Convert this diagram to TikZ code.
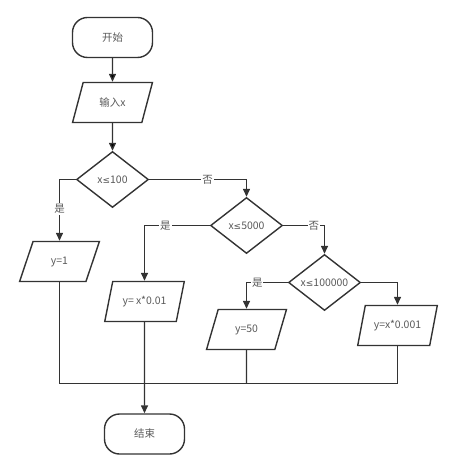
\documentclass[tikz,border=0pt]{standalone}
\usepackage{fontspec}
\newfontfamily\cjk{Noto Sans CJK SC}
\newfontfamily\symf{DejaVu Sans}
\usetikzlibrary{arrows.meta,shapes.geometric,positioning}

\definecolor{lineg}{HTML}{333333}
\definecolor{textg}{HTML}{595959}

\newcommand{\lessq}{{\symf\fontsize{9}{12}\selectfont ≤}}

\begin{document}
\begin{tikzpicture}[x=1bp, y=-1bp,
    every node/.style={font=\cjk\fontsize{10.5}{12}\selectfont, text=textg},
    term/.style={draw=lineg, line width=1.4bp, rounded corners=15bp,
        minimum width=80bp, minimum height=40bp},
    io/.style={draw=lineg, line width=1.4bp, trapezium,
        trapezium left angle=70, trapezium right angle=110,
        trapezium stretches=true, minimum width=80bp, minimum height=40bp},
    cond/.style={draw=lineg, line width=1.4bp, diamond, inner sep=0pt,
        minimum width=72bp, minimum height=56bp},
    lbl/.style={fill=white, inner sep=1pt},
    flow/.style={draw=lineg, line width=1.4bp, -{Triangle[length=8bp,width=7bp]}},
    link/.style={draw=lineg, line width=1.4bp}]
                \useasboundingbox (0,0) rectangle (464,464);

                \node (s) [term] at (112.5,37.5) {开始};
                \node (inp) [io] at (112.5,102.5) {输入x};
                \node (d1) [cond] at (112.5,179.5) {x\lessq100};
                \node (d2) [cond] at (246.5,225.5) {x\lessq5000};
                \node (d3) [cond] at (324.5,282.5) {x\lessq100000};
                \node (y1) [io] at (59.5,261.5) {y=1};
                \node (y2) [io] at (144.5,301.5) {y= x*0.01};
                \node (y3) [io] at (246.5,329.5) {y=50};
                \node (y4) [io] at (397.5,325.5) {y=x*0.001};
                \node (e) [term] at (144.5,434) {结束};
                \coordinate (m) at (144.5,383.5);

                \path [flow]
                    (s) edge (inp)
                    (inp) edge (d1);

                \draw [flow] (d1.west) -| node [lbl, pos=0.74] {是} (y1);
                \draw [flow] (d1.east) -| node [lbl, pos=0.3] {否} (d2);
                \draw [flow] (d2.west) -| node [lbl, pos=0.34] {是} (y2);
                \draw [flow] (d2.east) -| node [lbl, pos=0.37] {否} (d3);
                \draw [flow] (d3.west) -| node [lbl, pos=0.37] {是} (y3);
                \draw [flow] (d3.east) -| (y4);

                \draw [link] (y1) |- (m);
                \draw [link] (y4) |- (m);
                \draw [link] (y3) -- (y3 |- m);
                \draw [flow] (y2) -- (e);
            \end{tikzpicture}
\end{document}
